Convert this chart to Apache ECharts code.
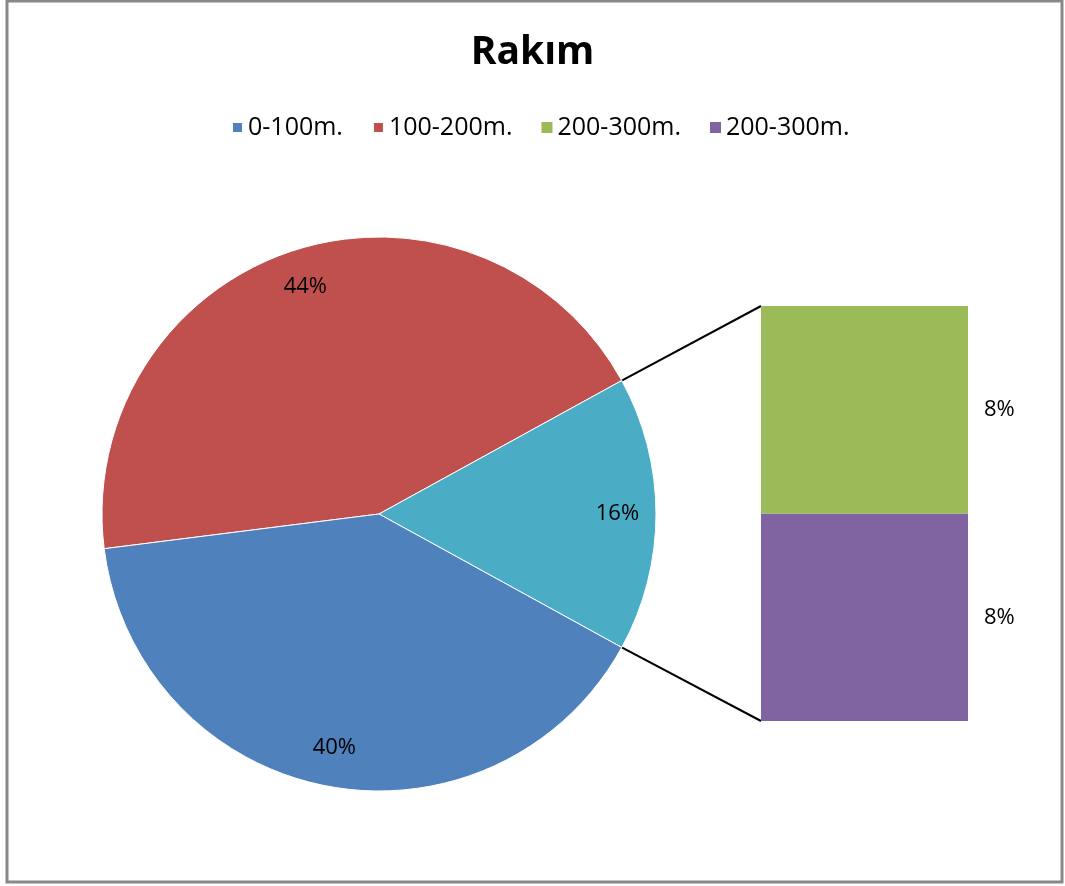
<!DOCTYPE html>
<html>
<head>
<meta charset="utf-8">
<script src="https://cdn.jsdelivr.net/npm/echarts@6/dist/echarts.min.js"></script>
<style>
  html, body { margin: 0; padding: 0; background: #fff; }
  #main { width: 1065px; height: 886px; }
</style>
</head>
<body>
<div id="main"></div>
<script>
// pie slices (the "other" slice is split out into the bar on the right)
var pieNames = ['100-200m.', 'Diğer', '0-100m.'];
var pieValues = [44, 16, 40];
var pieColors = ['#C0504D', '#4BACC6', '#4F81BD'];

// bar of the split-out slice, bottom to top
var barNames = ['200-300m. ', '200-300m.'];
var barValues = [8, 8];
var barColors = ['#8064A2', '#9BBB59'];

var legendNames = ['0-100m.', '100-200m.', '200-300m.', '200-300m. '];

var chart = echarts.init(document.getElementById('main'));

var cx = 379, cy = 514, R = 277;
var total = pieValues.reduce(function (a, b) { return a + b; }, 0);
var halfOther = pieValues[1] / total * 180;
var startAngle = halfOther + pieValues[0] / total * 360;

var barLeft = 761, barTop = 306, barW = 207, barH = 415;
var rad = halfOther * Math.PI / 180;
var px = cx + R * Math.cos(rad), pyTop = cy - R * Math.sin(rad), pyBot = cy + R * Math.sin(rad);

var pieData = pieNames.map(function (n, i) {
  return { name: n, value: pieValues[i], itemStyle: { color: pieColors[i] } };
});
var labelData = pieNames.map(function (n, i) {
  return { name: n, value: pieValues[i] };
});

var txt = { fontFamily: 'Open Sans', fontSize: 22, color: '#000' };

var option = {
  animation: false,
  backgroundColor: '#fff',
  title: {
    text: 'Rakım',
    left: 'center',
    top: 28,
    textStyle: { fontFamily: 'Open Sans', fontWeight: 'bold', fontSize: 39, color: '#000' }
  },
  legend: {
    data: legendNames,
    top: 110,
    left: 226,
    icon: 'rect',
    itemWidth: 11,
    itemHeight: 11,
    itemGap: 29,
    textStyle: { fontFamily: 'Open Sans', fontSize: 25, color: '#000' }
  },
  grid: { left: barLeft, top: barTop, width: barW, height: barH },
  xAxis: { type: 'category', data: ['x'], show: false },
  yAxis: { type: 'value', min: 0, max: 16, show: false },
  series: [
    {
      type: 'pie',
      center: [cx, cy],
      radius: R,
      startAngle: startAngle,
      data: pieData,
      label: { show: false },
      labelLine: { show: false },
      itemStyle: { borderColor: '#fff', borderWidth: 1 },
      silent: true
    },
    {
      type: 'pie',
      center: [cx, cy],
      radius: [R * 0.7, R],
      startAngle: startAngle,
      data: labelData,
      itemStyle: { color: 'rgba(0,0,0,0)' },
      label: Object.assign({ show: true, position: 'inside', formatter: '{c}%' }, txt),
      labelLine: { show: false },
      silent: true
    },
    {
      type: 'bar',
      name: barNames[0],
      stack: 'other',
      data: [barValues[0]],
      barWidth: '100%',
      itemStyle: { color: barColors[0] },
      label: Object.assign({ show: true, position: 'right', distance: 16, formatter: '{c}%' }, txt)
    },
    {
      type: 'bar',
      name: barNames[1],
      stack: 'other',
      data: [barValues[1]],
      barWidth: '100%',
      itemStyle: { color: barColors[1] },
      label: Object.assign({ show: true, position: 'right', distance: 16, formatter: '{c}%' }, txt)
    }
  ],
  graphic: [
    { type: 'rect', shape: { x: 7, y: 1, width: 1055, height: 881 }, style: { fill: null, stroke: '#888', lineWidth: 3 }, silent: true },
    { type: 'line', shape: { x1: px, y1: pyTop, x2: barLeft, y2: barTop }, style: { stroke: '#000', lineWidth: 2 }, silent: true },
    { type: 'line', shape: { x1: px, y1: pyBot, x2: barLeft, y2: barTop + barH }, style: { stroke: '#000', lineWidth: 2 }, silent: true }
  ]
};

chart.setOption(option);
</script>
</body>
</html>
